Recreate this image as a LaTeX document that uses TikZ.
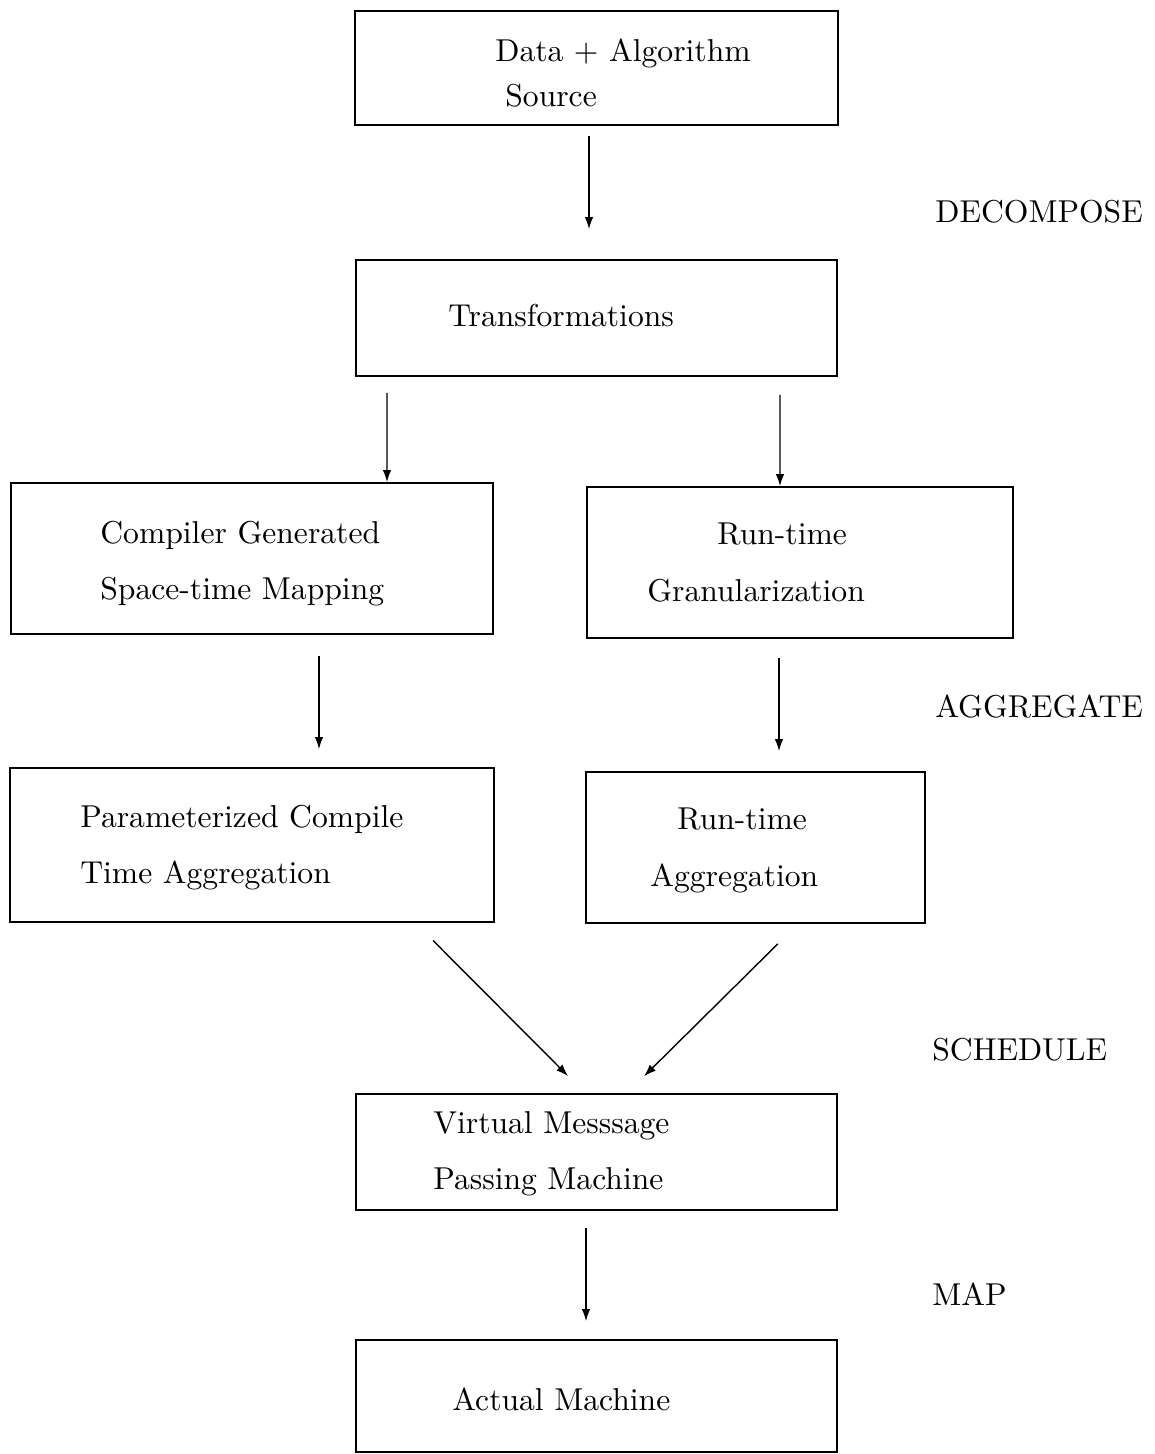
\documentclass[tikz,border=0pt]{standalone}
\usepackage{fontspec}
\setmainfont{lmroman10-regular.otf}
\usepackage{tikz}
\usetikzlibrary{arrows.meta}
\tikzstyle{box} = [rectangle,draw,line width=1pt,inner sep=0pt]
\tikzstyle{txt} = [align=left,anchor=north west,inner sep=0pt,font=\fontsize{18}{32}\selectfont]
\tikzstyle{stage} = [anchor=base west,inner sep=0pt,font=\fontsize{18}{22}\selectfont]
\tikzstyle{arr} = [-{Latex[length=0.24cm,width=0.17cm]},line width=0.8pt]

\begin{document}
\begin{tikzpicture}[node distance=5cm]
		\useasboundingbox (0,0) rectangle (23.08,-29.08);
		\node [box,minimum width=9.66cm,minimum height=2.28cm] (src) at (11.93,-1.36) {};
		\node [box,minimum width=9.62cm,minimum height=2.32cm,below of=src] (trans) {};
		\node [box,minimum width=9.64cm,minimum height=3.02cm,below of=trans,xshift=-6.89cm,yshift=0.19cm] (comp) {};
		\node [box,minimum width=8.52cm,minimum height=3.02cm,below of=trans,xshift=4.07cm,yshift=0.11cm] (rtg) {};
		\node [box,minimum width=9.68cm,minimum height=3.08cm,below of=comp,yshift=-0.73cm] (pca) {};
		\node [box,minimum width=6.78cm,minimum height=3.02cm,below of=rtg,xshift=-0.89cm,yshift=-0.7cm] (rta) {};
		\node [box,minimum width=9.62cm,minimum height=2.32cm,below of=pca,xshift=6.89cm,yshift=-1.14cm] (vmp) {};
		\node [box,minimum width=9.62cm,minimum height=2.24cm,below of=vmp,yshift=0.12cm] (am) {};

		\node [txt] (srct) at (9.90,-0.78) {Data + Algorithm\\[-6.5pt]\hspace*{0.2cm}Source};
		\node [txt] (transt) at (8.96,-6.08) {Transformations};
		\node [txt] (compt) at (2.0,-10.42) {Compiler Generated\\Space-time Mapping};
		\node [txt] (rtgt) at (12.94,-10.46) {\hspace*{1.4cm}Run-time\\Granularization};
		\node [txt] (pcat) at (1.6,-16.1) {Parameterized Compile\\Time Aggregation};
		\node [txt] (rtat) at (13.0,-16.16) {\hspace*{0.54cm}Run-time\\Aggregation};
		\node [txt] (vmpt) at (8.66,-22.22) {Virtual Messsage\\Passing Machine};
		\node [txt] (amt) at (9.04,-27.74) {Actual Machine};

		\node [stage] (dec) at (18.7,-4.46) {DECOMPOSE};
		\node [stage] (agg) at (18.7,-14.34) {AGGREGATE};
		\node [stage] (sch) at (18.64,-21.2) {SCHEDULE};
		\node [stage] (map) at (18.64,-26.1) {MAP};

		\draw[arr,shorten <=0.2cm,shorten >=0.6cm]([xshift=-0.15cm]src.south)--([xshift=-0.15cm]trans.north);
		\draw[arr,shorten <=0.32cm]([xshift=-4.19cm]trans.south)--([xshift=2.7cm]comp.north);
		\draw[arr,shorten <=0.36cm]([xshift=3.67cm]trans.south)--([xshift=-0.4cm]rtg.north);
		\draw[arr,shorten <=0.42cm,shorten >=0.36cm]([xshift=1.34cm]comp.south)--([xshift=1.34cm]pca.north);
		\draw[arr,shorten <=0.38cm,shorten >=0.4cm]([xshift=-0.42cm]rtg.south)--([xshift=0.47cm]rta.north);
		\draw[arr,shorten <=0.5cm,shorten >=0.48cm]([xshift=3.27cm]pca.south)--([xshift=-0.23cm]vmp.north);
		\draw[arr,shorten <=0.57cm,shorten >=0.48cm]([xshift=0.85cm]rta.south)--([xshift=0.61cm]vmp.north);
		\draw[arr,shorten <=0.34cm,shorten >=0.36cm]([xshift=-0.21cm]vmp.south)--([xshift=-0.21cm]am.north);
\end{tikzpicture}
\end{document}
